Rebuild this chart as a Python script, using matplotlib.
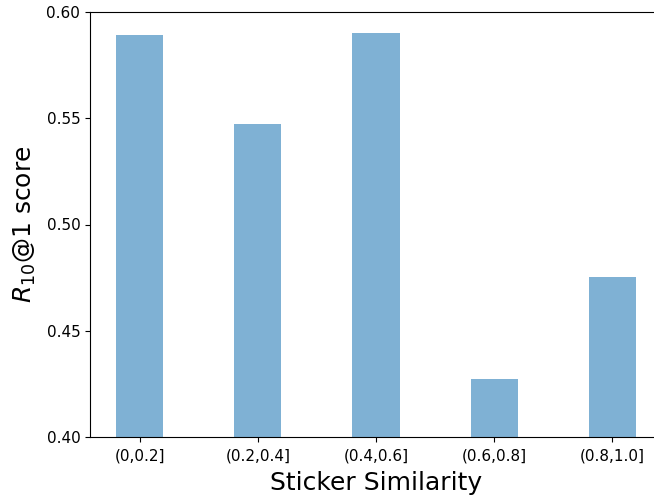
import matplotlib
matplotlib.use('Agg')
import matplotlib.pyplot as plt

bins = ['(0,0.2]', '(0.2,0.4]', '(0.4,0.6]', '(0.6,0.8]', '(0.8,1.0]']
scores = [0.5892, 0.5473, 0.5901, 0.4273, 0.4753]

fig = plt.figure(figsize=(6.54, 5.0), dpi=100)
ax = fig.add_axes([90/654, 63/500, 572/654, 425/500])
ax.bar(range(len(bins)), scores, width=0.4, color='#1f77b4', alpha=0.57)
ax.set_ylim(0.40, 0.60)
ax.set_xlim(-0.42, 4.42)
ax.set_xticks(range(len(bins)))
ax.set_xticklabels(bins, fontsize=11)
ax.tick_params(axis='x', pad=5)
ax.set_yticks([0.40, 0.45, 0.50, 0.55, 0.60])
ax.set_yticklabels(['0.40', '0.45', '0.50', '0.55', '0.60'], fontsize=11)
ax.set_xlabel('Sticker Similarity', fontsize=18, labelpad=5)
ax.set_ylabel('$R_{10}$@1 score', fontsize=18, labelpad=6)

fig.savefig('out.png', dpi=100)
